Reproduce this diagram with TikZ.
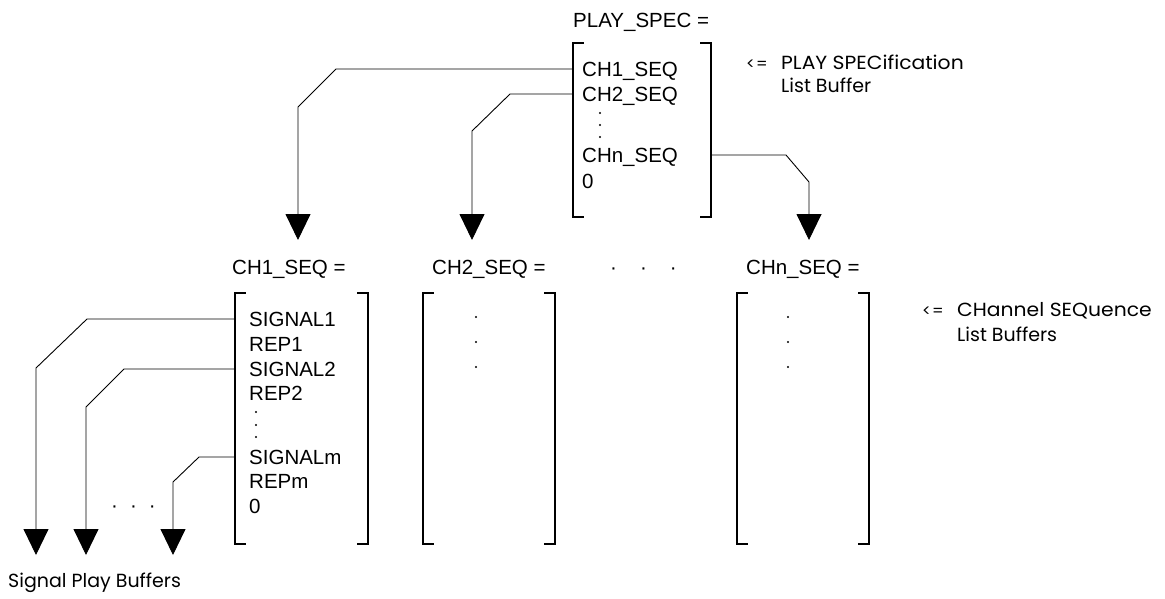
\documentclass[tikz,border=0pt]{standalone}
\usepackage{fontspec}
\setmainfont{Liberation Sans}
\newfontfamily\gothic{Poppins}
\newfontfamily\gothicwide[FakeStretch=1.07]{Poppins}
\usetikzlibrary{arrows.meta}
\newcommand\drawbrackets[1]{%
  \draw[bracket] ([xshift=11pt]#1.north west) -- (#1.north west) -- (#1.south west) -- ([xshift=11pt]#1.south west);
  \draw[bracket] ([xshift=-11pt]#1.north east) -- (#1.north east) -- (#1.south east) -- ([xshift=-11pt]#1.south east);}
\begin{document}
\begin{tikzpicture}[x=1pt,y=-1pt,
  item/.style={anchor=west,inner sep=0pt,text height=14.5pt,text depth=0pt,font=\fontsize{20.5}{24}\selectfont},
  note/.style={anchor=west,inner sep=0pt,text height=13.5pt,text depth=0pt,font=\gothic\fontsize{19}{22}\selectfont},
  widenote/.style={note,font=\gothicwide\fontsize{19}{22}\selectfont},
  arrnote/.style={note,font=\gothic\fontsize{16}{18}\selectfont},
  bracket/.style={line width=2.2pt},
  conn/.style={line width=0.9pt,-{Triangle[width=25pt,length=26pt]}},
  listbox/.style={inner sep=0pt,draw=none},
  vdot/.style={fill,circle,inner sep=0pt,minimum size=2.4pt}
]
\useasboundingbox (0,0) rectangle (1165,598);

% list boxes
\node[listbox,minimum width=138pt,minimum height=174pt] (ps) at (642,130) {};
\node[listbox,minimum width=133pt,minimum height=251pt] (c1) at (301.5,418.5) {};
\node[listbox,minimum width=132pt,minimum height=251pt] (c2) at (489,418.5) {};
\node[listbox,minimum width=132pt,minimum height=251pt] (cn) at (803,418.5) {};
\drawbrackets{ps}
\drawbrackets{c1}
\drawbrackets{c2}
\drawbrackets{cn}

% titles
\node[item] (pst) at (573,20) {PLAY\_SPEC =};
\node[item] (c1t) at (232,267) {CH1\_SEQ =};
\node[item] (c2t) at (432,267) {CH2\_SEQ =};
\node[item] (hd) at (610,267) {·\hspace{23pt}·\hspace{23pt}·};
\node[item] (cnt) at (746,267) {CHn\_SEQ =};

% PLAY_SPEC items
\node[item] (p1) at (582,69) {CH1\_SEQ};
\node[item] (p2) at (582,94) {CH2\_SEQ};
\node[vdot] (pd1) at (600,113) {};
\node[vdot] (pd2) at (600,125) {};
\node[vdot] (pd3) at (600,137) {};
\node[item] (pn) at (582,155) {CHn\_SEQ};
\node[item] (p0) at (582,181) {0};

% CH1_SEQ items
\node[item] (s1) at (249,319) {SIGNAL1};
\node[item] (r1) at (249,344) {REP1};
\node[item] (s2) at (249,369) {SIGNAL2};
\node[item] (r2) at (249,393) {REP2};
\node[vdot] (cd1) at (256,412) {};
\node[vdot] (cd2) at (256,425) {};
\node[vdot] (cd3) at (256,437) {};
\node[item] (sm) at (249,457) {SIGNALm};
\node[item] (rm) at (249,481) {REPm};
\node[item] (c10) at (249,506) {0};

% CH2 / CHn dots
\node[vdot] (d21) at (476,317) {};
\node[vdot] (d22) at (476,342) {};
\node[vdot] (d23) at (476,367) {};
\node[vdot] (dn1) at (788,317) {};
\node[vdot] (dn2) at (788,342) {};
\node[vdot] (dn3) at (788,367) {};

% notes
\node[arrnote] (n1a) at (746,63) {<\kern1pt=};
\node[widenote] (n1) at (781,63) {PLAY SPECification};
\node[note] (n1b) at (781,86) {List Buffer};
\node[arrnote] (n2a) at (922,310) {<\kern1pt=};
\node[widenote] (n2) at (957,310) {CHannel SEQuence};
\node[note] (n2b) at (957,335) {List Buffers};
\node[note] (sp) at (8,581) {Signal Play Buffers};
\node[item] (ld) at (111,505) {·\hspace{12pt}·\hspace{12pt}·};

% arrow targets
\coordinate (t1) at (298,240);
\coordinate (t2) at (472,240);
\coordinate (t3) at (809,240);
\coordinate (u1) at (36,555);
\coordinate (u2) at (86,555);
\coordinate (u3) at (173,555);

% connectors
\draw[conn] (ps.west |- p1.west) -- (336,69) -- (298,107) -- (t1);
\draw[conn] (ps.west |- p2.west) -- (510,94) -- (472,131) -- (t2);
\draw[conn] (ps.east |- pn.west) -- (786,155) -- (809,182) -- (t3);
\draw[conn] (c1.west |- s1.west) -- (87,319) -- (36,368) -- (u1);
\draw[conn] (c1.west |- s2.west) -- (124,369) -- (86,407) -- (u2);
\draw[conn] (c1.west |- sm.west) -- (199,457) -- (173,482) -- (u3);
\end{tikzpicture}
\end{document}
